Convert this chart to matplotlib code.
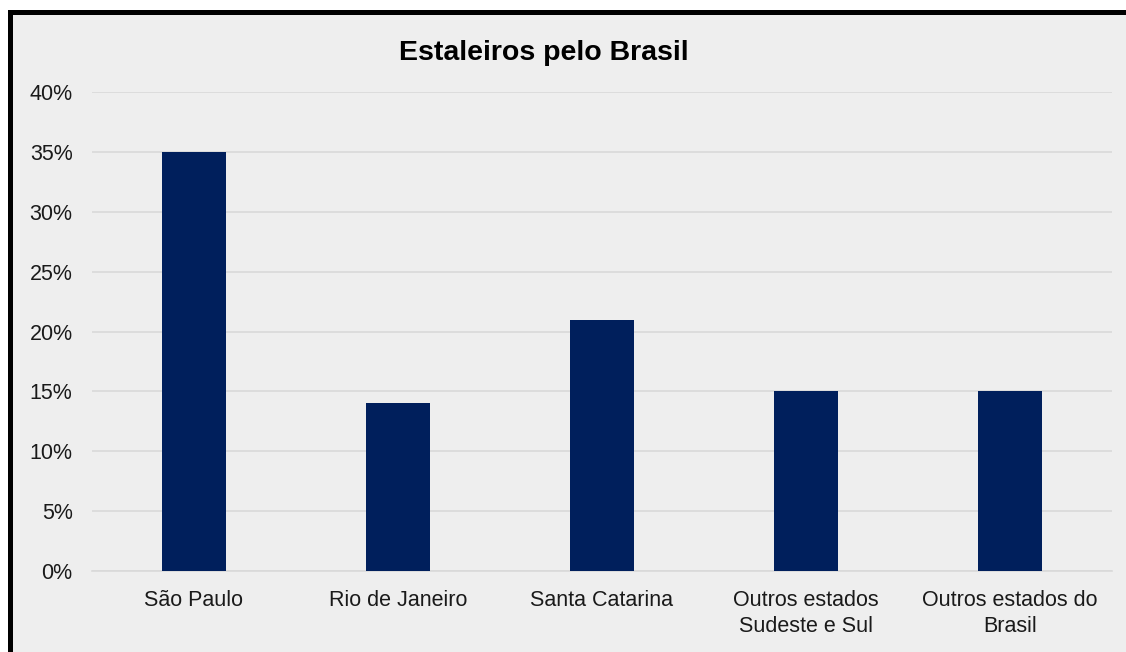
import matplotlib.pyplot as plt
from matplotlib.patches import Rectangle
from matplotlib.ticker import FuncFormatter

plt.rcParams['font.family'] = ['Liberation Sans', 'DejaVu Sans']

# dados
estados = ['São Paulo', 'Rio de Janeiro', 'Santa Catarina',
           'Outros estados\nSudeste e Sul', 'Outros estados do\nBrasil']
percentual = [35, 14, 21, 15, 15]

fig = plt.figure(figsize=(11.26, 6.52), dpi=100)
fig.patch.set_facecolor('white')
W, H = 1126, 652
# fundo cinza com moldura preta (só topo e esquerda aparecem)
fig.patches.append(Rectangle((9.5 / W, -0.1), 1.2, (H - 11.5) / H + 0.1,
                             transform=fig.transFigure, facecolor='#EEEEEE',
                             edgecolor='black', linewidth=3.6, zorder=0))

ax = fig.add_axes([92 / W, 1 - 571 / H, 1020 / W, 479 / H])
ax.set_zorder(2)
ax.set_facecolor('none')
x = range(len(estados))
ax.bar(x, percentual, width=0.31, color='#001F5C', zorder=3)
ax.set_xlim(-0.5, len(estados) - 0.5)
ax.set_ylim(0, 40)
ax.set_yticks(range(0, 41, 5))
ax.yaxis.set_major_formatter(FuncFormatter(lambda v, _: '%d%%' % v))
ax.set_xticks(list(x))
ax.set_xticklabels(estados, linespacing=1.3)
ax.grid(axis='y', color='#D9D9D9', linewidth=1.2, zorder=0)
for s in ['top', 'right', 'left']:
    ax.spines[s].set_visible(False)
ax.spines['bottom'].set_color('#D9D9D9')
ax.spines['bottom'].set_linewidth(1.2)
ax.tick_params(length=0, labelsize=15.5, colors='#1A1A1A')
ax.tick_params(axis='y', pad=14)
ax.tick_params(axis='x', pad=14)

fig.text(544 / W, 1 - 53 / H, 'Estaleiros pelo Brasil', ha='center', va='center',
         fontsize=20.5, fontweight='bold', color='black', zorder=3)

fig.savefig('out.png', dpi=100, facecolor=fig.get_facecolor())
